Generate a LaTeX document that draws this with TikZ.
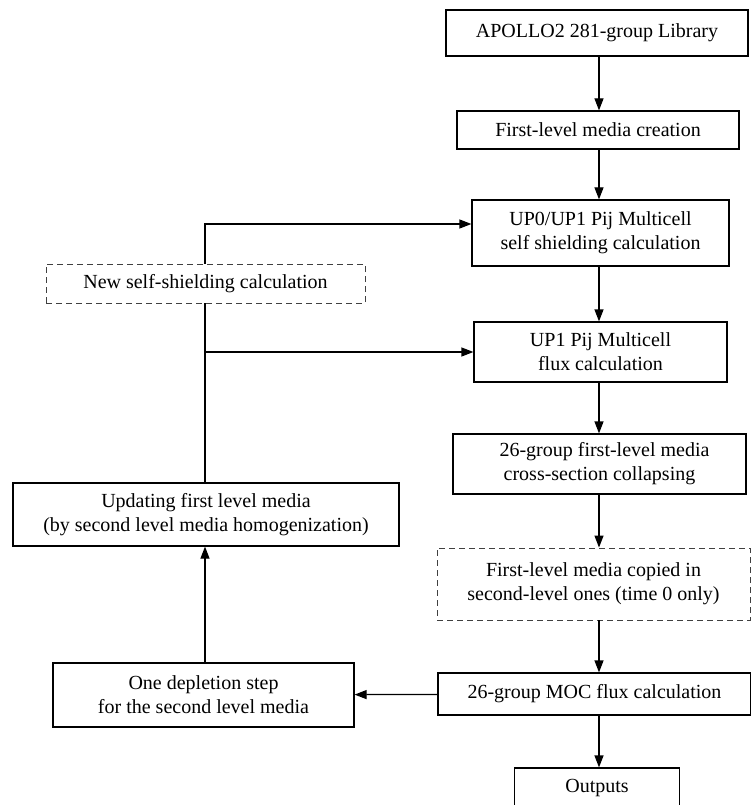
\documentclass[tikz,border=0pt]{standalone}
\usepackage{fontspec}
\setmainfont{Liberation Serif}
\usetikzlibrary{arrows.meta}

\begin{document}
\begin{tikzpicture}[x=1pt,y=-1pt,line width=1.2pt,
    box/.style={draw,align=center,inner sep=0pt,font=\fontsize{20}{24}\selectfont},
    dashbox/.style={box,draw=black!75,line width=0.9pt,dash pattern=on 6pt off 4pt},
    arr/.style={-{Triangle[length=12pt,width=9pt]}}]
    \useasboundingbox (0,0) rectangle (751,805);
    \node[box,minimum width=302,minimum height=46] (apollo) at (597,33) {APOLLO2 281-group Library};
    \node[box,minimum width=282,minimum height=38] (creation) at (598,130) {First-level media creation};
    \node[box,minimum width=257,minimum height=66] (selfshield) at (600.5,233) {UP0/UP1 Pij Multicell\\self shielding calculation};
    \node[box,minimum width=253,minimum height=60] (flux) at (600.5,352) {UP1 Pij Multicell\\flux calculation};
    \node[box,minimum width=293,minimum height=60] (collapse) at (599.5,464) {\hspace*{10pt}26-group first-level media\\cross-section collapsing};
    \node[dashbox,minimum width=313,minimum height=72] (copied) at (593.5,584) {First-level media copied in\\second-level ones (time 0 only)};
    \node[box,minimum width=313,minimum height=42] (moc) at (594.5,694) {26-group MOC flux calculation};
    \node[box,minimum width=165,minimum height=40] (outputs) at (597,788) {Outputs};
    \node[box,minimum width=301,minimum height=64] (depletion) at (203.5,695) {One depletion step\\for the second level media};
    \node[box,minimum width=386,minimum height=63] (updating) at (206,514.5) {Updating first level media\\(by second level media homogenization)};
    \node[dashbox,minimum width=319,minimum height=39] (newself) at (205.5,283.5) {New self-shielding calculation};
    \coordinate (axis) at (599,0);
    \coordinate (topbend) at (205,224);
    \coordinate (fluxbend) at (205,352);
    \draw[arr] (apollo.south -| axis) -- (creation.north -| axis);
    \draw[arr] (creation.south -| axis) -- (selfshield.north -| axis);
    \draw[arr] (selfshield.south -| axis) -- (flux.north -| axis);
    \draw[arr] (flux.south -| axis) -- (collapse.north -| axis);
    \draw[arr] (collapse.south -| axis) -- (copied.north -| axis);
    \draw[arr] (copied.south -| axis) -- (moc.north -| axis);
    \draw[arr] (moc.south -| axis) -- (outputs.north -| axis);
    \draw[arr] (moc) -- (depletion);
    \draw[arr] (depletion.north -| topbend) -- (updating.south -| topbend);
    \draw (updating.north -| topbend) -- (newself.south -| topbend);
    \draw[arr] (newself.north -| topbend) -- (topbend) -- (topbend -| selfshield.west);
    \draw[arr] (fluxbend) -- (flux.west |- fluxbend);
  \end{tikzpicture}
\end{document}
